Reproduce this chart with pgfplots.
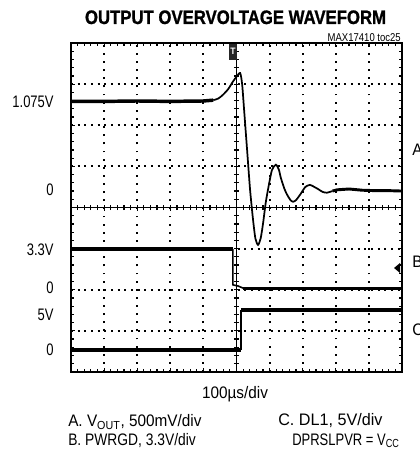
\documentclass[border=0pt]{standalone}
\usepackage{fontspec}
\setmainfont[FakeStretch=0.92]{Liberation Sans}
\newfontfamily\labelfont[FakeStretch=0.78]{Liberation Sans}
\newfontfamily\capsfont[FakeStretch=0.83]{Liberation Sans}
\newfontfamily\widefont[FakeStretch=0.97]{Liberation Sans}
\newfontfamily\smallfont[FakeStretch=0.84]{Liberation Sans}
\newfontfamily\titlefont[FakeStretch=0.86,FakeBold=1]{Liberation Sans}
\usepackage{pgfplots}
\pgfplotsset{compat=1.18}

\begin{document}
\begin{tikzpicture}
% centre cross with fine ticks (drawn first, under the traces)
\begin{axis}[
    at={(53.25pt,60pt)}, anchor=south west,
    width=248.25pt, height=246.75pt, scale only axis,
    xmin=-5, xmax=5, ymin=-4, ymax=4,
    axis lines=middle,
    axis line style={-, line width=0.9pt},
    xtick={-5,...,5}, ytick={-4,...,4},
    minor x tick num=4, minor y tick num=4,
    xticklabels={}, yticklabels={},
    tick align=center,
    major tick length=4.5pt, minor tick length=3.8pt,
    tick style={black, line width=0.9pt},
  ]
  \addplot[draw=none] coordinates {(0,0)};
\end{axis}

% scope screen, 10 x 8 divisions
\begin{axis}[
    at={(53.25pt,60pt)}, anchor=south west,
    width=248.25pt, height=246.75pt, scale only axis,
    xmin=0, xmax=10, ymin=0, ymax=8,
    xtick={0,...,10}, ytick={0,...,8},
    minor x tick num=4, minor y tick num=4,
    xticklabels={}, yticklabels={},
    tick align=inside,
    major tick length=3pt, minor tick length=2.4pt,
    tick style={black, line width=0.9pt},
    xmajorgrids, ymajorgrids,
    x grid style={black, line width=1.4pt, dash pattern=on 1.4pt off 4.7pt},
    y grid style={black, line width=1.4pt, dash pattern=on 1.4pt off 3.6pt},
    axis line style={line width=2pt},
    extra y ticks={6.58,4.43,2.98,2.04,1.39,0.535},
    extra y tick labels={1.075V,0,3.3V,0,5V,0},
    extra y tick style={grid=none, major tick length=0pt,
      yticklabel style={font=\labelfont\fontsize{12.5}{14}\selectfont, anchor=east, xshift=-9.5pt}},
  ]
  % A: VOUT
  \addplot[black, line width=2.6pt] coordinates {
    (0,6.58)(1,6.58)(2,6.59)(3,6.58)(4,6.59)(4.3,6.61)
  };
  \addplot[black, line width=1.3pt, smooth, tension=0.4] coordinates {
    (4.3,6.61)(4.45,6.65)(4.59,6.74)(4.75,6.88)(4.89,7.06)(5.0,7.18)(5.11,7.27)
    (5.17,7.0)(5.23,6.37)(5.32,5.4)(5.41,4.43)(5.5,3.7)(5.57,3.25)(5.65,3.09)
    (5.73,3.25)(5.8,3.6)(5.88,4.1)(5.95,4.43)(6.07,4.91)(6.19,5.04)(6.28,4.92)
    (6.34,4.72)(6.45,4.45)(6.53,4.31)(6.63,4.18)(6.71,4.14)(6.8,4.18)(6.92,4.31)
    (7.08,4.5)(7.22,4.55)(7.35,4.5)(7.46,4.45)(7.6,4.38)(7.73,4.36)(7.9,4.4)
  };
  \addplot[black, line width=2.2pt] coordinates {
    (7.9,4.4)(8.04,4.43)(8.4,4.45)(8.8,4.42)(9.2,4.41)(9.6,4.41)(10,4.40)
  };
  % B: PWRGD
  \addplot[black, line width=2.8pt] coordinates {(0,2.985)(4.89,2.985)};
  \addplot[black, line width=1.2pt] coordinates {(4.89,2.985)(4.89,2.12)(5.05,2.09)(5.2,2.04)};
  \addplot[black, line width=2.4pt] coordinates {(5.2,2.04)(10,2.04)};
  % C: DL1
  \addplot[black, line width=2.6pt] coordinates {(0,0.535)(5.14,0.535)};
  \addplot[black, line width=1.2pt] coordinates {(5.14,0.535)(5.14,1.51)};
  \addplot[black, line width=2.6pt] coordinates {(5.14,1.51)(10,1.51)};
\end{axis}

% texts and markers, in pixel units of the reference (origin top left)
\begin{scope}[x=0.75pt, y=-0.75pt, shift={(0pt,339pt)}]
  \node[anchor=base, inner sep=0, font=\titlefont\bfseries\fontsize{14.6}{16}\selectfont]
    at (235.5,24) {OUTPUT OVERVOLTAGE WAVEFORM};
  \node[anchor=base east, inner sep=0, font=\smallfont\fontsize{8.5}{10}\selectfont]
    at (401,42) {MAX17410 toc25};
  % trigger marker
  \fill[black!85] (229,44) rectangle (237,60);
  \node[white, inner sep=0, font=\fontsize{7}{8}\selectfont\bfseries] at (233,51) {T};
  % channel B marker
  \fill[black] (394,268) -- (400,263) -- (400,273) -- cycle;
  % channel letters at the right edge (cut by the page, as in the reference)
  \node[anchor=west, inner sep=0, font=\fontsize{12.5}{14}\selectfont] at (412,150) {A};
  \node[anchor=west, inner sep=0, font=\fontsize{12.5}{14}\selectfont] at (412,262) {B};
  \node[anchor=west, inner sep=0, font=\fontsize{12.5}{14}\selectfont] at (412,330) {C};
  % footnotes
  \node[anchor=base, inner sep=0, font=\fontsize{12.5}{14}\selectfont] at (235,399) {100µs/div};
  \node[anchor=base west, inner sep=0, font=\fontsize{12.5}{14}\selectfont] at (68,426.5) {A. V\textsubscript{OUT}, 500mV/div};
  \node[anchor=base west, inner sep=0, font=\capsfont\fontsize{12.5}{14}\selectfont] at (68,445.5) {B. PWRGD, 3.3V/div};
  \node[anchor=base west, inner sep=0, font=\widefont\fontsize{12.5}{14}\selectfont] at (278,426) {C. DL1, 5V/div};
  \node[anchor=base west, inner sep=0, font=\labelfont\fontsize{12.5}{14}\selectfont] at (292,445) {DPRSLPVR = V\textsubscript{CC}};
\end{scope}

\pgfresetboundingbox
\path[use as bounding box] (0pt,0pt) rectangle (314.25pt,339pt);
\end{tikzpicture}
\end{document}
